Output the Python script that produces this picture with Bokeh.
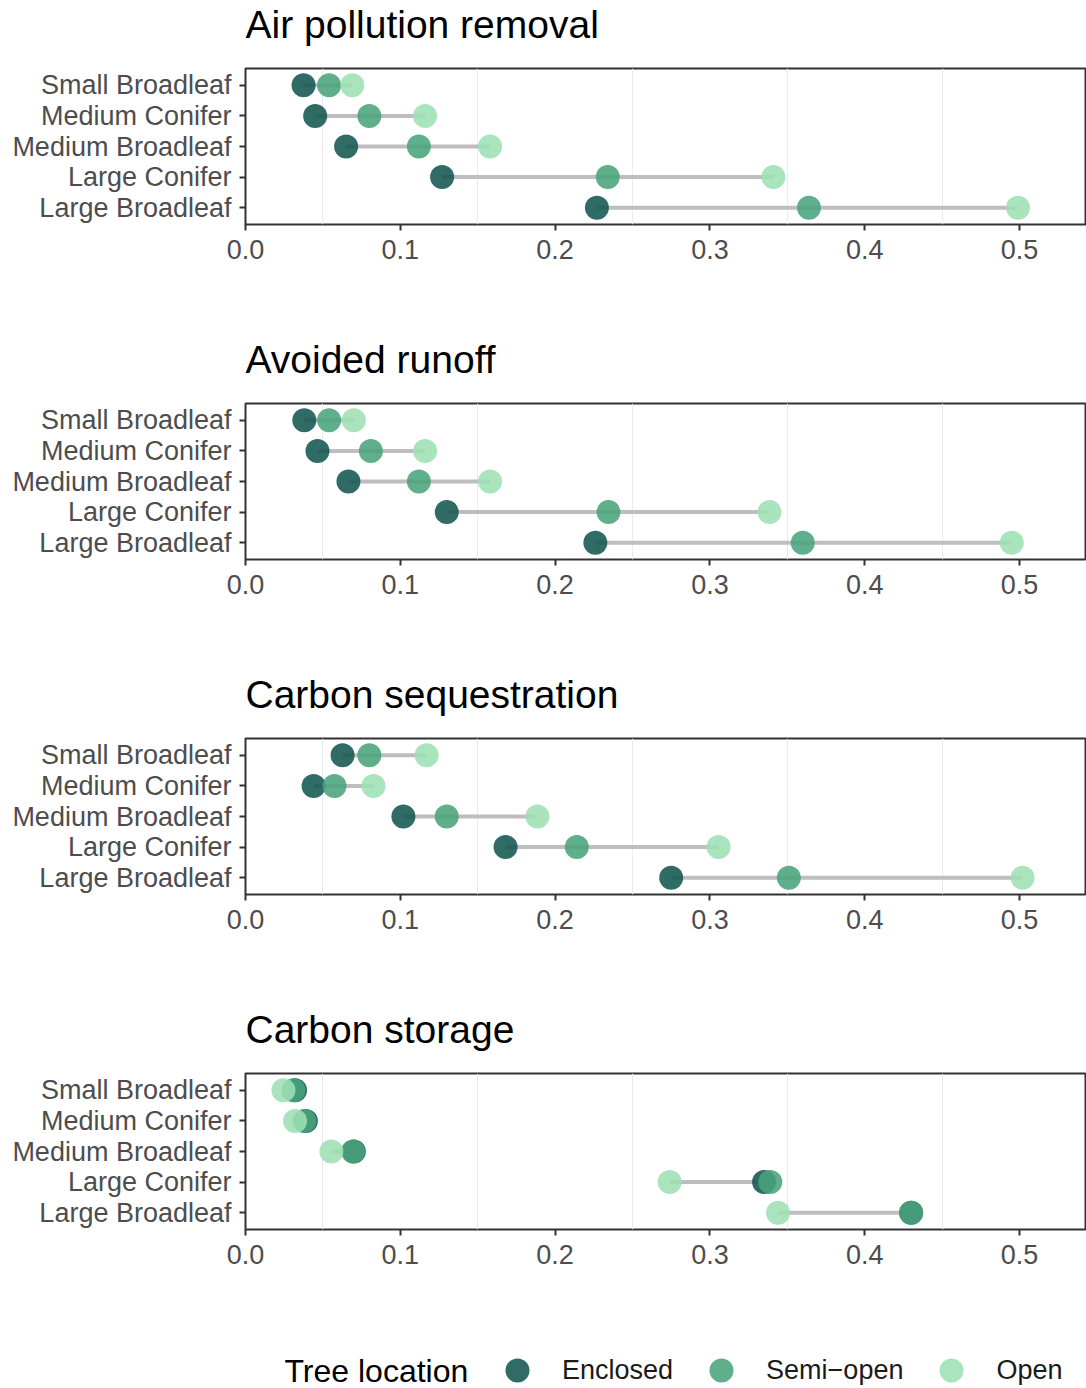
import numpy as np
from bokeh.plotting import figure
from bokeh.models import (Range1d, FixedTicker, NumeralTickFormatter, Legend,
                          LegendItem, ColumnDataSource, Label)
from bokeh.core.properties import value
from bokeh.layouts import column
from bokeh.embed import file_html
from bokeh.resources import INLINE

# ---------------- data ----------------
species = ["Small Broadleaf", "Medium Conifer", "Medium Broadleaf",
           "Large Conifer", "Large Broadleaf"]
panel_titles = ["Air pollution removal", "Avoided runoff",
                "Carbon sequestration", "Carbon storage"]
legend_title = "Tree location"
locations = ["Enclosed", "Semi\u2212open", "Open"]
x_ticks = [0.0, 0.1, 0.2, 0.3, 0.4, 0.5]
x_minor_grid = [0.05, 0.15, 0.25, 0.35, 0.45]

air_enclosed = [0.0375, 0.045, 0.065, 0.127, 0.227]
air_semi = [0.054, 0.080, 0.112, 0.234, 0.364]
air_open = [0.069, 0.116, 0.158, 0.341, 0.499]

runoff_enclosed = [0.038, 0.0465, 0.0665, 0.130, 0.226]
runoff_semi = [0.054, 0.081, 0.112, 0.2345, 0.360]
runoff_open = [0.070, 0.116, 0.158, 0.3385, 0.495]

seq_enclosed = [0.0627, 0.044, 0.102, 0.168, 0.275]
seq_semi = [0.080, 0.0575, 0.130, 0.214, 0.351]
seq_open = [0.117, 0.0827, 0.1886, 0.3056, 0.502]

storage_enclosed = [0.032, 0.039, 0.070, 0.335, 0.430]
storage_semi = [0.031, 0.038, 0.0695, 0.339, 0.430]
storage_open = [0.0245, 0.032, 0.0555, 0.274, 0.344]

panel_data = [
    (air_enclosed, air_semi, air_open),
    (runoff_enclosed, runoff_semi, runoff_open),
    (seq_enclosed, seq_semi, seq_open),
    (storage_enclosed, storage_semi, storage_open),
]

# ---------------- style ----------------
FONT = "Liberation Sans"
colors = ["#135651", "#49A37C", "#9DE0B4"]
ALPHA = 0.88
W = 1086
LEFT = 245
XMAX = (W - LEFT) / 1548.0
TITLE_H = 48
PLOT_TOP = 20
FRAME_H = 156
n = len(species)
ypos = [n - i for i in range(n)]
ylabels = {n - i: s for i, s in enumerate(species)}


def blank_fig(h):
    f = figure(width=W, height=h, output_backend="svg", toolbar_location=None,
               x_range=Range1d(0, 1), y_range=Range1d(0, 1),
               x_axis_location=None, y_axis_location=None,
               min_border_left=0, min_border_right=0, min_border_top=0,
               min_border_bottom=0)
    f.grid.visible = False
    f.outline_line_color = None
    f.background_fill_color = "white"
    f.border_fill_color = "white"
    return f


children = []
bottoms = [111, 111, 111, 60]
for k, (title, (enc, semi, opn)) in enumerate(zip(panel_titles, panel_data)):
    # title strip
    t = blank_fig(TITLE_H)
    t.add_layout(Label(x=0, y=24, x_units="screen", y_units="screen",
                       text=title, text_font=FONT, text_font_size="39px",
                       text_color="black", text_baseline="alphabetic",
                       text_align="left"))
    children.append(t)

    h = PLOT_TOP + FRAME_H + bottoms[k]
    p = figure(width=W, height=h, output_backend="svg", toolbar_location=None,
               x_range=Range1d(0, XMAX), y_range=Range1d(0.45, n + 0.55),
               min_border_left=LEFT, min_border_right=0, min_border_top=PLOT_TOP,
               min_border_bottom=bottoms[k])

    all_vals = np.array([enc, semi, opn])
    src = ColumnDataSource(dict(y=ypos, lo=all_vals.min(axis=0), hi=all_vals.max(axis=0)))
    p.segment(x0="lo", x1="hi", y0="y", y1="y", source=src,
              line_color="#BEBEBE", line_width=4)
    for vals, c in zip((enc, semi, opn), colors):
        p.scatter(x=vals, y=ypos, size=24, fill_color=c, fill_alpha=ALPHA,
                  line_color=None)

    p.xaxis.ticker = FixedTicker(ticks=x_ticks)
    p.xaxis.formatter = NumeralTickFormatter(format="0.0")
    p.yaxis.ticker = FixedTicker(ticks=ypos)
    p.yaxis.major_label_overrides = ylabels
    for ax in (p.xaxis, p.yaxis):
        ax.axis_line_color = None
        ax.major_tick_line_color = "#333333"
        ax.major_tick_line_width = 2
        ax.major_tick_out = 6
        ax.major_tick_in = 0
        ax.minor_tick_line_color = None
        ax.major_label_text_font = FONT
        ax.major_label_text_font_size = "27px"
        ax.major_label_text_color = "#4D4D4D"
    p.xaxis.major_label_standoff = 9
    p.yaxis.major_label_standoff = 8

    p.xgrid.ticker = FixedTicker(ticks=x_minor_grid)
    p.xgrid.grid_line_color = "#EBEBEB"
    p.xgrid.grid_line_width = 1
    p.ygrid.visible = False

    p.outline_line_color = "#333333"
    p.outline_line_width = 2
    p.outline_line_alpha = 1
    p.background_fill_color = "white"
    p.border_fill_color = "white"
    children.append(p)

# ---------------- legend strip ----------------
used = len(panel_titles) * (TITLE_H + PLOT_TOP + FRAME_H) + sum(bottoms)
LG_H = 1388 - used
lg = blank_fig(LG_H)
items = []
for lab, c in zip(locations, colors):
    r = lg.scatter(x=[np.nan], y=[np.nan], size=24, fill_color=c,
                   fill_alpha=ALPHA, line_color=None)
    items.append(LegendItem(label=value(lab), renderers=[r]))

leg = Legend(items=items, orientation="horizontal", location=(487 - LEFT, -12))
leg.label_text_font = FONT
leg.label_text_font_size = "27px"
leg.label_text_color = "#1A1A1A"
leg.glyph_width = 60
leg.glyph_height = 60
leg.label_standoff = 15
leg.spacing = 18
leg.padding = 0
leg.margin = 0
leg.border_line_color = None
leg.background_fill_alpha = 0
lg.add_layout(leg)
lg.add_layout(Label(x=284 - LEFT, y=18, x_units="screen", y_units="screen",
                    text=legend_title, text_font=FONT, text_font_size="32px",
                    text_color="black", text_baseline="middle"))
children.append(lg)

layout = column(*children, spacing=0)
open("out.html", "w").write(file_html(layout, INLINE))
